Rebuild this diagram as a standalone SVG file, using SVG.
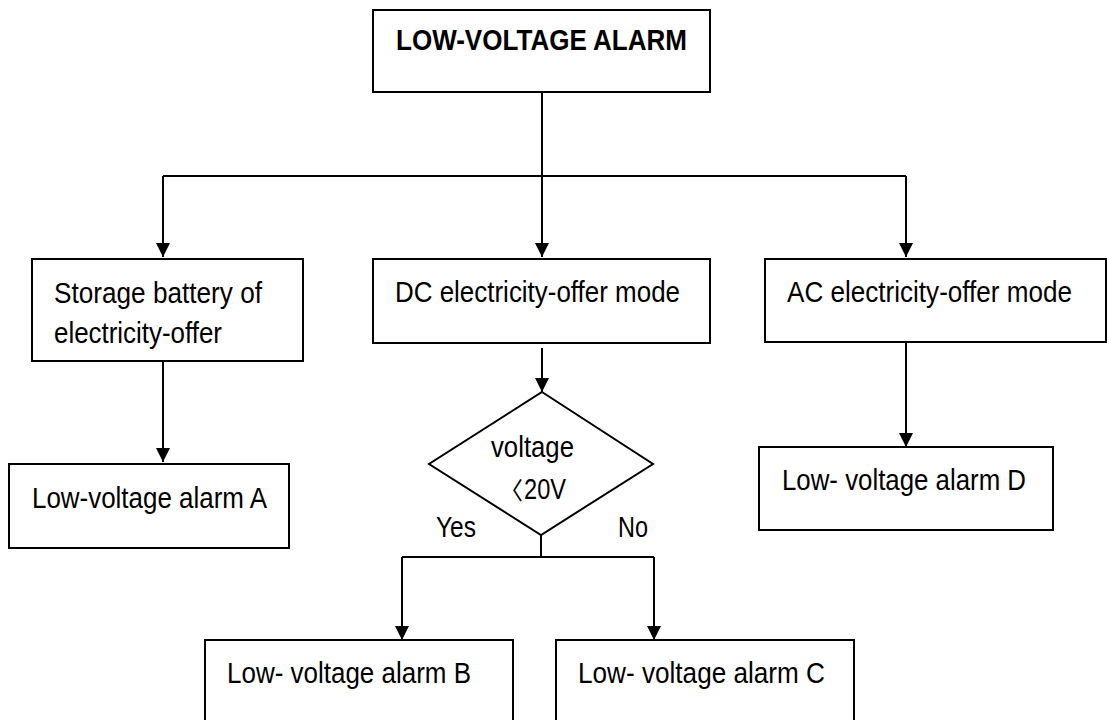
<svg xmlns="http://www.w3.org/2000/svg" width="1107" height="720" viewBox="0 0 1107 720">
<defs>
<marker id="arr" markerWidth="14" markerHeight="14" refX="14" refY="7" orient="auto" markerUnits="userSpaceOnUse">
<path d="M0,0 L14,7 L0,14 Z" fill="#000"/>
</marker>
<style>
.box{fill:#fff;stroke:#000;stroke-width:2}
.ln{fill:none;stroke:#000;stroke-width:2}
.t{font-family:"Liberation Sans Narrow","Liberation Sans",Arial,sans-serif;font-size:29px;fill:#000}
.b{font-weight:bold}
</style>
</defs>
<rect width="1107" height="720" fill="#fff"/>
<g id="connectors">
<path class="ln" d="M542,92 V257" marker-end="url(#arr)"/>
<path class="ln" d="M163,176 H906"/>
<path class="ln" d="M163,176 V257" marker-end="url(#arr)"/>
<path class="ln" d="M906,176 V257" marker-end="url(#arr)"/>
<path class="ln" d="M163,361 V462" marker-end="url(#arr)"/>
<path class="ln" d="M542,348 V392" marker-end="url(#arr)"/>
<path class="ln" d="M906,342 V447" marker-end="url(#arr)"/>
<path class="ln" d="M541,535 V557"/>
<path class="ln" d="M402,557 H654"/>
<path class="ln" d="M402,557 V640" marker-end="url(#arr)"/>
<path class="ln" d="M654,557 V640" marker-end="url(#arr)"/>
</g>
<g id="top">
<rect class="box" x="373" y="10" width="337" height="82"/>
<text class="t b" x="396" y="50" textLength="291" lengthAdjust="spacingAndGlyphs">LOW-VOLTAGE ALARM</text>
</g>
<g id="storage">
<rect class="box" x="32" y="259" width="271" height="102"/>
<text class="t" x="54" y="303" textLength="208" lengthAdjust="spacingAndGlyphs">Storage battery of</text>
<text class="t" x="54" y="343" textLength="168" lengthAdjust="spacingAndGlyphs">electricity-offer</text>
</g>
<g id="dc">
<rect class="box" x="373" y="259" width="337" height="84"/>
<text class="t" x="395" y="302" textLength="285" lengthAdjust="spacingAndGlyphs">DC electricity-offer mode</text>
</g>
<g id="ac">
<rect class="box" x="765" y="259" width="341" height="83"/>
<text class="t" x="787" y="302" textLength="285" lengthAdjust="spacingAndGlyphs">AC electricity-offer mode</text>
</g>
<g id="alarmA">
<rect class="box" x="9" y="464" width="280" height="84"/>
<text class="t" x="32" y="508" textLength="235" lengthAdjust="spacingAndGlyphs">Low-voltage alarm A</text>
</g>
<g id="decision">
<path class="box" d="M542,392 L653,464 L541,535 L429,464 Z"/>
<text class="t" x="491" y="457" textLength="83" lengthAdjust="spacingAndGlyphs">voltage</text>
<text class="t" y="499"><tspan x="499" font-family="'Noto Sans CJK SC',sans-serif" font-size="24">〈</tspan><tspan x="524" textLength="42" lengthAdjust="spacingAndGlyphs">20V</tspan></text>
<text class="t" x="436" y="537" textLength="40" lengthAdjust="spacingAndGlyphs">Yes</text>
<text class="t" x="618" y="537" textLength="30" lengthAdjust="spacingAndGlyphs">No</text>
</g>
<g id="alarmD">
<rect class="box" x="759" y="447" width="294" height="83"/>
<text class="t" x="782" y="490" textLength="244" lengthAdjust="spacingAndGlyphs">Low- voltage alarm D</text>
</g>
<g id="alarmB">
<rect class="box" x="205" y="640" width="308" height="90"/>
<text class="t" x="227" y="683" textLength="244" lengthAdjust="spacingAndGlyphs">Low- voltage alarm B</text>
</g>
<g id="alarmC">
<rect class="box" x="556" y="640" width="298" height="90"/>
<text class="t" x="578" y="683" textLength="247" lengthAdjust="spacingAndGlyphs">Low- voltage alarm C</text>
</g>
</svg>
